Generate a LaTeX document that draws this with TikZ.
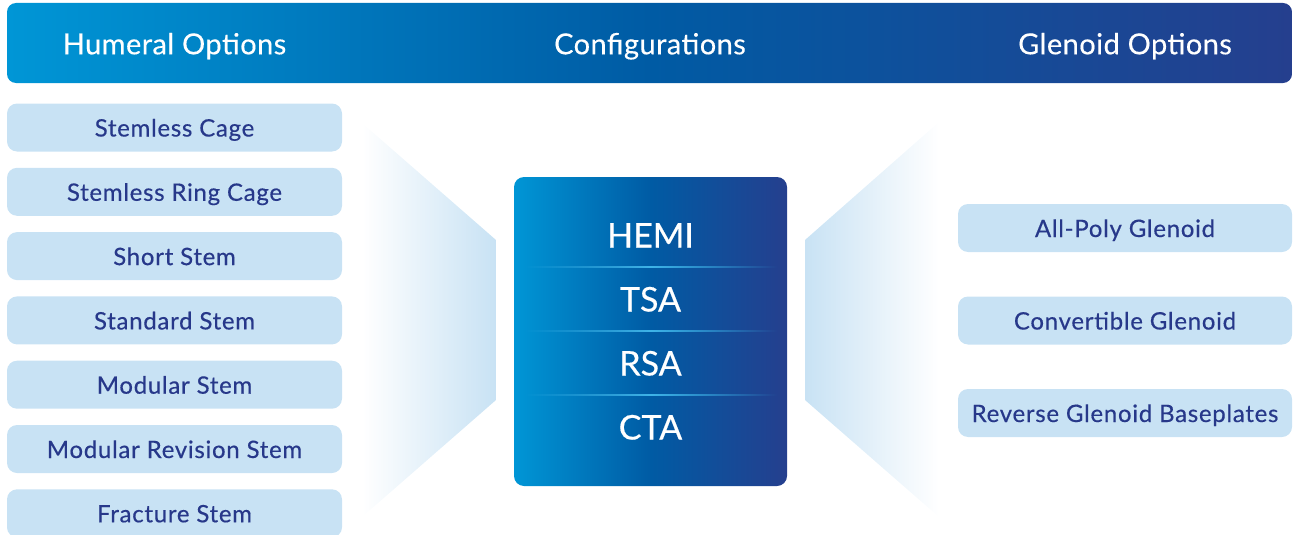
\documentclass[tikz,border=0pt]{standalone}
\usepackage{fontspec}
\setmainfont{Lato}
\newfontfamily\hdrfont[LetterSpace=1.5,FakeBold=0.3]{Lato}
\newfontfamily\optfont[LetterSpace=3,FakeBold=0.4]{Lato}
\newfontfamily\cfgfont[FakeBold=0.4]{Lato}
\usetikzlibrary{fadings}
\definecolor{navy}{HTML}{253F8E}
\definecolor{bright}{HTML}{0096D6}
\definecolor{midblue}{HTML}{005BA4}
\definecolor{pale}{HTML}{C8E2F4}
\definecolor{divider}{HTML}{3FB4E8}
\definecolor{labeltext}{HTML}{27388A}
\tikzfading[name=midfade, left color=transparent!100, right color=transparent!100, middle color=transparent!0]
\tikzset{
  hdrtext/.style={text=white, font=\hdrfont\fontsize{29}{32}\selectfont, inner sep=0pt, anchor=base},
  optbox/.style={fill=pale, rounded corners=10pt, minimum height=48pt, inner sep=0pt, text=labeltext,
    font=\optfont\fontsize{24}{28}\selectfont, text height=18pt, text depth=0pt},
  humbox/.style={optbox, minimum width=335pt},
  glebox/.style={optbox, minimum width=334pt},
  cfgtext/.style={text=white, font=\cfgfont\fontsize{34}{40}\selectfont, inner sep=0pt, anchor=base},
  dividerline/.style={fill=divider, path fading=midfade},
}
\begin{document}
\begin{tikzpicture}[x=1pt,y=-1pt]
\useasboundingbox (0,0) rectangle (1293,535);
% header
\node[rounded corners=9pt, minimum width=1285pt, minimum height=80pt, inner sep=0pt,
  left color=bright, right color=navy, middle color=midblue] (hdr) at (649.5,43) {};
\node[hdrtext] (hum) at (174.5,54.3) {Humeral Options};
\node[hdrtext] (cfg) at (650,54.3) {Configurations};
\node[hdrtext] (gle) at (1125,54.3) {Glenoid Options};
% funnels
\shade[left color=white, right color=pale] (362,123) -- (496,240) -- (496,400) -- (362,517) -- cycle;
\shade[left color=pale, right color=white] (939,122) -- (805,240) -- (805,400) -- (939,517) -- cycle;
% humeral options
\node[humbox] (h1) at (174.5,127.5) {Stemless Cage};
\node[humbox] (h2) at (174.5,191.8) {Stemless Ring Cage};
\node[humbox] (h3) at (174.5,256.1) {Short Stem};
\node[humbox] (h4) at (174.5,320.4) {Standard Stem};
\node[humbox] (h5) at (174.5,384.7) {Modular Stem};
\node[humbox] (h6) at (174.5,449.0) {Modular Revision Stem};
\node[humbox] (h7) at (174.5,513.3) {Fracture Stem};
% configurations
\node[rounded corners=10pt, minimum width=273pt, minimum height=309pt, inner sep=0pt,
  left color=bright, right color=navy, middle color=midblue] (cbox) at (650.5,331.5) {};
\fill[dividerline] (524,266.3) rectangle (777,268);
\fill[dividerline] (524,330.3) rectangle (777,332);
\fill[dividerline] (524,394.3) rectangle (777,396);
\node[cfgtext] (hemi) at (650.5,247.5) {HEMI};
\node[cfgtext] (tsa) at (650.5,311.5) {TSA};
\node[cfgtext] (rsa) at (650.5,375.5) {RSA};
\node[cfgtext] (cta) at (650.5,439.5) {CTA};
% glenoid options
\node[glebox] (g1) at (1125,228) {All-Poly Glenoid};
\node[glebox] (g2) at (1125,320.5) {Convertible Glenoid};
\node[glebox] (g3) at (1125,413) {Reverse Glenoid Baseplates};
\end{tikzpicture}
\end{document}
